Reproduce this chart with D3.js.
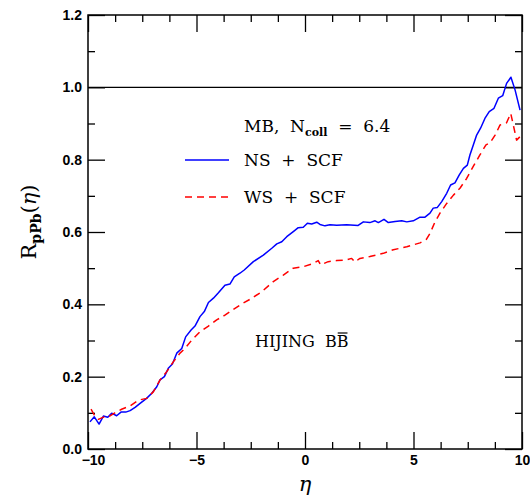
<!DOCTYPE html>
<html>
<head>
<meta charset="utf-8">
<script src="https://cdn.jsdelivr.net/npm/d3@7"></script>
<style>
  html, body { margin: 0; padding: 0; background: #fff; }
  svg { display: block; }
</style>
</head>
<body>
<svg id="chart" width="530" height="500"></svg>
<script>
// ---- data ----
const etaNS = [-9.91,-9.71,-9.49,-9.29,-9.09,-8.91,-8.68,-8.48,-8.26,-8.06,-7.83,-7.60,-7.30,-7.06,-6.83,-6.68,-6.48,-6.30,-6.11,-5.91,-5.68,-5.50,-5.25,-5.07,-4.84,-4.64,-4.45,-4.22,-3.99,-3.69,-3.46,-3.26,-3.00,-2.80,-2.38,-1.92,-1.53,-1.30,-1.07,-0.84,-0.54,-0.31,-0.08,0.11,0.31,0.54,0.69,0.92,1.15,1.46,1.92,2.45,2.69,2.99,3.23,3.38,3.64,3.84,4.15,4.46,4.69,4.99,5.30,5.53,5.76,5.91,6.10,6.30,6.53,6.71,6.91,7.11,7.30,7.48,7.60,7.76,7.91,8.09,8.29,8.49,8.71,8.91,9.11,9.29,9.49,9.68,9.91];
const rNS = [0.075,0.089,0.069,0.091,0.088,0.099,0.092,0.102,0.102,0.106,0.115,0.126,0.140,0.154,0.172,0.191,0.200,0.223,0.235,0.265,0.278,0.310,0.329,0.340,0.366,0.380,0.405,0.417,0.432,0.453,0.456,0.476,0.486,0.495,0.518,0.536,0.555,0.567,0.573,0.587,0.601,0.612,0.613,0.624,0.622,0.627,0.621,0.617,0.620,0.619,0.620,0.618,0.628,0.626,0.631,0.626,0.635,0.626,0.629,0.631,0.628,0.631,0.641,0.641,0.652,0.666,0.668,0.684,0.707,0.730,0.736,0.758,0.776,0.785,0.813,0.841,0.868,0.887,0.914,0.933,0.942,0.970,0.977,1.011,1.028,0.993,0.937];

const etaWS = [-9.86,-9.71,-9.52,-9.29,-9.06,-8.76,-8.45,-8.06,-7.68,-7.30,-6.99,-6.68,-6.37,-6.07,-5.76,-5.53,-5.22,-4.84,-4.45,-4.07,-3.69,-3.30,-2.92,-2.53,-1.99,-1.46,-1.00,-0.54,-0.08,0.38,0.61,0.72,1.07,1.46,1.92,2.15,2.30,2.53,2.99,3.61,4.07,4.69,5.30,5.60,5.76,5.99,6.22,6.53,6.84,7.14,7.45,7.76,8.06,8.34,8.53,8.76,8.99,9.29,9.48,9.60,9.75,9.98];
const rWS = [0.110,0.094,0.082,0.088,0.089,0.100,0.110,0.119,0.135,0.140,0.158,0.191,0.214,0.241,0.265,0.278,0.301,0.324,0.340,0.357,0.370,0.386,0.401,0.414,0.435,0.463,0.481,0.500,0.504,0.513,0.521,0.509,0.518,0.521,0.523,0.527,0.517,0.527,0.532,0.541,0.551,0.559,0.570,0.580,0.596,0.628,0.652,0.679,0.702,0.721,0.748,0.782,0.813,0.841,0.847,0.868,0.896,0.902,0.928,0.896,0.854,0.868];

const xMajorTicks = [-10, -5, 0, 5, 10];
const xMinorTicks = [-8.75,-7.5,-6.25,-3.75,-2.5,-1.25,1.25,2.5,3.75,6.25,7.5,8.75];
const yMajorTicks = [0.0, 0.2, 0.4, 0.6, 0.8, 1.0, 1.2];
const yMinorTicks = [0.1, 0.3, 0.5, 0.7, 0.9, 1.1];
const refLine = 1.0;

const series = [
  { name: "NS + SCF", eta: etaNS, r: rNS, color: "#0000ff", dash: null },
  { name: "WS + SCF", eta: etaWS, r: rWS, color: "#ff0000", dash: "7,5" }
];

// ---- layout ----
const L = 88, R = 522, T = 15, B = 449;
const svg = d3.select("#chart");
const x = d3.scaleLinear().domain([-10, 10]).range([L, R]);
const y = d3.scaleLinear().domain([0, 1.2]).range([B, T]);

const tickFont = "'Liberation Sans', Arial, sans-serif";
const serif = "'DejaVu Serif', 'Liberation Serif', serif";

function styleAxis(g) {
  g.select(".domain").remove();
  g.selectAll(".tick line").attr("stroke", "#000").attr("stroke-width", 1.3);
}
// minor ticks (all four sides, inward)
svg.append("g").attr("transform", `translate(0,${B})`)
  .call(d3.axisBottom(x).tickValues(xMinorTicks).tickSize(-7).tickFormat(""))
  .call(styleAxis);
svg.append("g").attr("transform", `translate(0,${T})`)
  .call(d3.axisTop(x).tickValues(xMinorTicks).tickSize(-7).tickFormat(""))
  .call(styleAxis);
svg.append("g").attr("transform", `translate(${L},0)`)
  .call(d3.axisLeft(y).tickValues(yMinorTicks).tickSize(-7).tickFormat(""))
  .call(styleAxis);
svg.append("g").attr("transform", `translate(${R},0)`)
  .call(d3.axisRight(y).tickValues(yMinorTicks).tickSize(-7).tickFormat(""))
  .call(styleAxis);

// major ticks
const xb = svg.append("g").attr("transform", `translate(0,${B})`)
  .call(d3.axisBottom(x).tickValues(xMajorTicks).tickSizeInner(-17).tickSizeOuter(0).tickPadding(6)
    .tickFormat(d => d < 0 ? "\u2212" + Math.abs(d) : String(d)))
  .call(styleAxis);
xb.selectAll(".tick text").attr("font-family", tickFont).attr("font-weight", "bold")
  .attr("font-size", 14).attr("fill", "#000").attr("y", 6).attr("dy", "0.71em")
  .attr("dx", d => d === -10 ? 5 : 0);
svg.append("g").attr("transform", `translate(0,${T})`)
  .call(d3.axisTop(x).tickValues(xMajorTicks).tickSizeInner(-17).tickSizeOuter(0).tickFormat(""))
  .call(styleAxis);
const yl = svg.append("g").attr("transform", `translate(${L},0)`)
  .call(d3.axisLeft(y).tickValues(yMajorTicks).tickSizeInner(-17).tickSizeOuter(0).tickPadding(6)
    .tickFormat(d3.format(".1f")))
  .call(styleAxis);
yl.selectAll(".tick text").attr("font-family", tickFont).attr("font-weight", "bold")
  .attr("font-size", 14).attr("fill", "#000").attr("x", -6);
svg.append("g").attr("transform", `translate(${R},0)`)
  .call(d3.axisRight(y).tickValues(yMajorTicks).tickSizeInner(-17).tickSizeOuter(0).tickFormat(""))
  .call(styleAxis);

// frame
svg.append("rect").attr("x", L).attr("y", T).attr("width", R - L).attr("height", B - T)
  .attr("fill", "none").attr("stroke", "#000").attr("stroke-width", 1.5);

// reference line at 1.0
svg.append("line").attr("x1", x(-10)).attr("x2", x(10)).attr("y1", y(refLine)).attr("y2", y(refLine))
  .attr("stroke", "#000").attr("stroke-width", 1.4);

// curves
const line = d3.line().x(d => x(d[0])).y(d => y(d[1]));
series.forEach(s => {
  const pts = s.eta.map((e, i) => [e, s.r[i]]);
  svg.append("path").datum(pts).attr("d", line)
    .attr("fill", "none").attr("stroke", s.color).attr("stroke-width", 1.5)
    .attr("stroke-linejoin", "round")
    .attr("stroke-dasharray", s.dash);
});

// legend
const legX1 = 185, legX2 = 229, legTextX = 244;
const mb = svg.append("text").attr("x", legTextX).attr("y", 132)
  .attr("font-family", serif).attr("font-size", 17).attr("fill", "#000")
  .style("white-space", "pre");
mb.append("tspan").text("MB,  N");
mb.append("tspan").attr("font-size", 11).attr("font-weight", "bold").attr("dy", 4).text("coll");
mb.append("tspan").attr("dy", -4).text("  =  6.4");

series.forEach((s, i) => {
  const ly = 160 + i * 37;
  svg.append("line").attr("x1", legX1).attr("x2", legX2).attr("y1", ly).attr("y2", ly)
    .attr("stroke", s.color).attr("stroke-width", 1.5).attr("stroke-dasharray", s.dash);
  svg.append("text").attr("x", legTextX).attr("y", ly + 6)
    .attr("font-family", serif).attr("font-size", 17).attr("fill", "#000")
    .style("white-space", "pre")
    .text(s.name.replace(/ \+ /, "  +  "));
});

// HIJING BB-bar
const hij = svg.append("text").attr("x", 255).attr("y", 347)
  .attr("font-family", serif).attr("font-size", 16).attr("fill", "#000")
  .style("white-space", "pre").text("HIJING  BB");
const n = hij.node().getNumberOfChars();
const ext = hij.node().getExtentOfChar(n - 1);
svg.append("line").attr("x1", ext.x + 1).attr("x2", ext.x + ext.width - 1)
  .attr("y1", ext.y + 1).attr("y2", ext.y + 1)
  .attr("stroke", "#000").attr("stroke-width", 1.2);

// axis titles
svg.append("text").attr("x", x(0)).attr("y", 491).attr("text-anchor", "middle")
  .attr("font-family", serif).attr("font-style", "italic").attr("font-size", 21)
  .attr("fill", "#000").text("\u03b7");

const yt = svg.append("text").attr("transform", "translate(36,222) rotate(-90)")
  .attr("text-anchor", "middle").attr("font-family", serif).attr("font-size", 21).attr("fill", "#000");
yt.append("tspan").text("R");
yt.append("tspan").attr("font-size", 14).attr("font-weight", "bold").attr("dy", 5).text("pPb");
yt.append("tspan").attr("dy", -5).text("(");
yt.append("tspan").attr("font-style", "italic").text("\u03b7");
yt.append("tspan").text(")");
</script>
</body>
</html>
